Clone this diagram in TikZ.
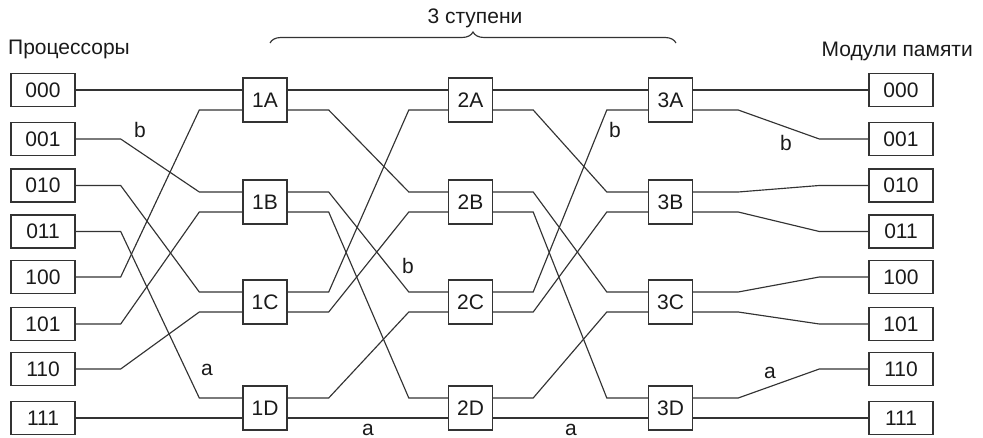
\documentclass[tikz,border=0pt]{standalone}
\usepackage{fontspec}
\setmainfont{Liberation Sans}
\usetikzlibrary{decorations.pathreplacing}
\definecolor{linec}{HTML}{333333}
\definecolor{textc}{HTML}{1A1A1A}
\newcommand\hop[4]{\draw[wire] (#1) -- ++(#2,0) -- ([xshift=-#3pt]#4) -- (#4);}
\begin{document}
\begin{tikzpicture}[x=1pt,y=-1pt,
  every node/.style={text=textc, font=\fontsize{21}{25}\selectfont},
  pbox/.style={draw=linec, line width=1.4pt, minimum width=64pt, minimum height=33pt, inner sep=0pt},
  sw/.style={draw=linec, line width=1.4pt, minimum width=44pt, minimum height=44pt, inner sep=0pt},
  wire/.style={draw=linec, line width=1.15pt},
  lbl/.style={inner sep=0pt},
  bracestyle/.style={draw=linec, line width=1.15pt, decorate, decoration={brace, amplitude=11pt}}]
\useasboundingbox (0,0) rectangle (983,438);
% titles
\node[lbl, anchor=base west] (tproc) at (8,55) {Процессоры};
\node[lbl, anchor=base east] (tmem) at (973,57) {Модули памяти};
\node[lbl] (tstage) at (475,18) {3 ступени};
\coordinate (brL) at (270,43);
\coordinate (brR) at (676,43);
\draw[bracestyle] (brL) -- (brR);
% processor and memory boxes
\foreach \i/\t/\y in {0/000/90,1/001/139,2/010/185.5,3/011/231.5,4/100/277,5/101/324,6/110/369,7/111/418}{
  \node[pbox] (P\i) at (43,\y) {\t};
  \node[pbox] (M\i) at (901,\y) {\t};
}
% switches
\foreach \s/\x in {1/265,2/470.5,3/670.5}{
  \foreach \r/\y in {A/100,B/202,C/302,D/408}{
    \node[sw] (\s\r) at (\x,\y) {\s\r};
    \coordinate (\s\r-it) at ([yshift=10pt]\s\r.west);
    \coordinate (\s\r-ib) at ([yshift=-10pt]\s\r.west);
    \coordinate (\s\r-ot) at ([yshift=10pt]\s\r.east);
    \coordinate (\s\r-ob) at ([yshift=-10pt]\s\r.east);
  }
}
% processors -> stage 1
\draw[wire] (P0.east) -- (1A-it);
\hop{P1.east}{45}{43}{1B-it}
\hop{P2.east}{45}{43}{1C-it}
\hop{P3.east}{45}{43}{1D-it}
\hop{P4.east}{45}{43}{1A-ib}
\hop{P5.east}{45}{43}{1B-ib}
\hop{P6.east}{45}{43}{1C-ib}
\draw[wire] (P7.east) -- (1D-ib);
% stage 1 -> stage 2
\draw[wire] (1A-ot) -- (2A-it);
\hop{1A-ob}{41}{39}{2B-it}
\hop{1B-ot}{41}{39}{2C-it}
\hop{1B-ob}{41}{39}{2D-it}
\hop{1C-ot}{41}{39}{2A-ib}
\hop{1C-ob}{41}{39}{2B-ib}
\hop{1D-ot}{41}{39}{2C-ib}
\draw[wire] (1D-ob) -- (2D-ib);
% stage 2 -> stage 3
\draw[wire] (2A-ot) -- (3A-it);
\hop{2A-ob}{40}{41}{3B-it}
\hop{2B-ot}{40}{41}{3C-it}
\hop{2B-ob}{40}{41}{3D-it}
\hop{2C-ot}{40}{41}{3A-ib}
\hop{2C-ob}{40}{41}{3B-ib}
\hop{2D-ot}{40}{41}{3C-ib}
\draw[wire] (2D-ob) -- (3D-ib);
% stage 3 -> memory
\draw[wire] (3A-ot) -- (M0.west);
\hop{3A-ob}{45}{49}{M1.west}
\hop{3B-ot}{45}{49}{M2.west}
\hop{3B-ob}{45}{49}{M3.west}
\hop{3C-ot}{45}{49}{M4.west}
\hop{3C-ob}{45}{49}{M5.west}
\hop{3D-ot}{45}{49}{M6.west}
\draw[wire] (3D-ob) -- (M7.west);
% route labels
\node[lbl] (l1) at (140,130) {b};
\node[lbl] (l2) at (207,370) {a};
\node[lbl] (l3) at (408,266) {b};
\node[lbl] (l4) at (368,430) {a};
\node[lbl] (l5) at (571,430) {a};
\node[lbl] (l6) at (615,130) {b};
\node[lbl] (l7) at (786,143) {b};
\node[lbl] (l8) at (770,373) {a};
\end{tikzpicture}
\end{document}
